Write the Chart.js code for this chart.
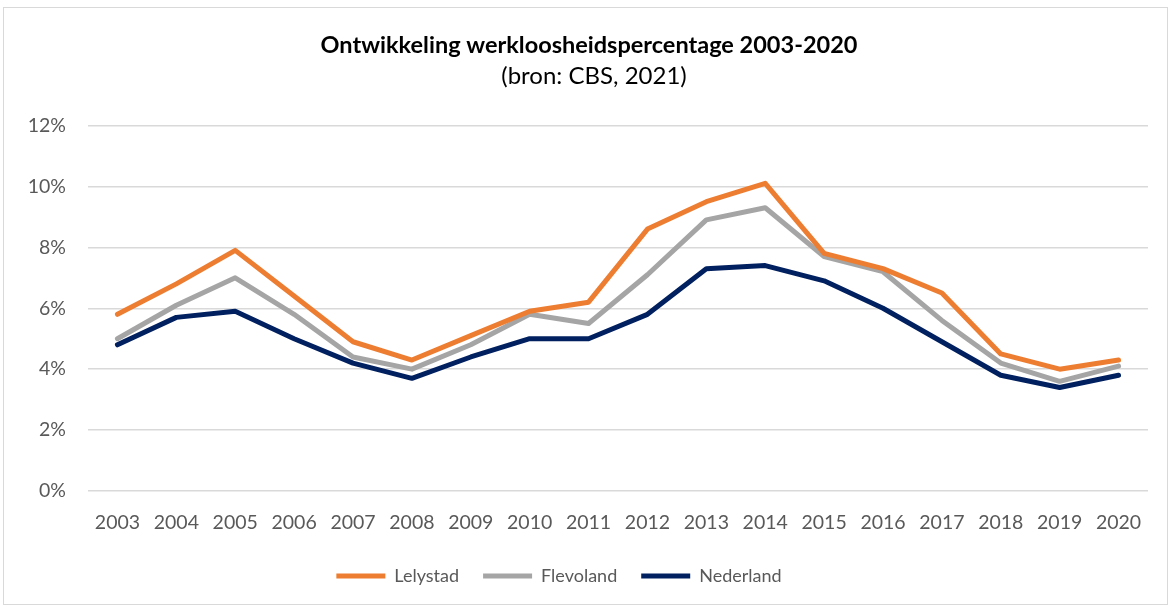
<!DOCTYPE html>
<html>
<head>
<meta charset="utf-8">
<script src="https://cdn.jsdelivr.net/npm/chart.js@4/dist/chart.umd.min.js"></script>
<style>
  html, body { margin: 0; padding: 0; background: #fff; }
  #wrap { width: 1171px; height: 607px; position: relative; }
</style>
</head>
<body>
<div id="wrap"><canvas id="werkloosChart" width="1171" height="607"></canvas></div>
<script>
// Werkloosheidspercentage 2003-2020 (bron: CBS, 2021)
const years = ['2003', '2004', '2005', '2006', '2007', '2008', '2009', '2010', '2011',
  '2012', '2013', '2014', '2015', '2016', '2017', '2018', '2019', '2020'];
const lelystad = [5.8, 6.8, 7.9, 6.4, 4.9, 4.3, 5.1, 5.9, 6.2, 8.6, 9.5, 10.1, 7.8, 7.3, 6.5, 4.5, 4.0, 4.3];
const flevoland = [5.0, 6.1, 7.0, 5.8, 4.4, 4.0, 4.8, 5.8, 5.5, 7.1, 8.9, 9.3, 7.7, 7.2, 5.6, 4.2, 3.6, 4.1];
const nederland = [4.8, 5.7, 5.9, 5.0, 4.2, 3.7, 4.4, 5.0, 5.0, 5.8, 7.3, 7.4, 6.9, 6.0, 4.9, 3.8, 3.4, 3.8];
const yTicks = [0, 2, 4, 6, 8, 10, 12];

const titleText = 'Ontwikkeling werkloosheidspercentage 2003-2020';
const subtitleText = '(bron: CBS, 2021)';
const fontFam = 'Lato, "Open Sans", sans-serif';
const textColor = '#595959';

// light grey frame round the whole chart
const framePlugin = {
  id: 'frame',
  beforeDraw(chart) {
    const c = chart.ctx;
    c.save();
    c.fillStyle = '#fff';
    c.fillRect(0, 0, chart.width, chart.height);
    c.strokeStyle = '#d9d9d9';
    c.lineWidth = 1;
    c.strokeRect(3.5, 7.5, chart.width - 7, chart.height - 10);
    c.restore();
  }
};

// nudge titles and legend sideways like the original (not centred on plot)
const nudgePlugin = {
  id: 'nudge',
  afterLayout(chart) {
    chart.boxes.forEach(b => {
      let dx = 0;
      if (b === chart.legend) dx = -15;
      else if (b.options && b.options.text === titleText) dx = 15;
      else if (b.options && b.options.text === subtitleText) dx = 20;
      if (dx) { b.left += dx; b.right += dx; }
    });
  }
};

function lineSet(label, data, color) {
  return {
    label: label,
    data: data,
    borderColor: color,
    backgroundColor: color,
    borderWidth: 5,
    pointRadius: 0,
    tension: 0,
    borderCapStyle: 'round',
    borderJoinStyle: 'round'
  };
}

const ctx = document.getElementById('werkloosChart').getContext('2d');
const chart = new Chart(ctx, {
  type: 'line',
  data: {
    labels: years,
    datasets: [
      lineSet('Lelystad', lelystad, '#ed7d31'),
      lineSet('Flevoland', flevoland, '#a5a5a5'),
      lineSet('Nederland', nederland, '#002060')
    ]
  },
  options: {
    responsive: false,
    animation: false,
    layout: { padding: { left: 0, right: 23, top: 0, bottom: 12 } },
    plugins: {
      title: {
        display: true,
        text: titleText,
        color: '#000',
        font: { family: fontFam, size: 23.5, weight: 'bold' },
        padding: { top: 31, bottom: 3 }
      },
      subtitle: {
        display: true,
        text: subtitleText,
        color: '#000',
        font: { family: fontFam, size: 24 },
        padding: { top: 0, bottom: 34.5 }
      },
      legend: {
        position: 'bottom',
        labels: {
          color: textColor,
          font: { family: fontFam, size: 18 },
          boxWidth: 49,
          boxHeight: 5,
          padding: 24,
          generateLabels(chart) {
            return Chart.defaults.plugins.legend.labels.generateLabels(chart)
              .map(l => Object.assign(l, { lineWidth: 0 }));
          }
        }
      },
      tooltip: { enabled: false }
    },
    scales: {
      x: {
        offset: true,
        grid: { display: false },
        border: { display: false },
        ticks: { color: textColor, font: { family: fontFam, size: 19.5 }, padding: 12, maxRotation: 0 },
        afterFit(scale) { scale.height = 52; }
      },
      y: {
        min: 0,
        max: 12,
        afterBuildTicks(scale) { scale.ticks = yTicks.map(v => ({ value: v })); },
        grid: { color: '#d9d9d9', lineWidth: 1.5, drawTicks: false },
        border: { display: false },
        ticks: {
          color: textColor,
          font: { family: fontFam, size: 19.5 },
          padding: 22,
          callback: v => v + '%'
        },
        afterFit(scale) { scale.width = 88; }
      }
    }
  },
  plugins: [framePlugin, nudgePlugin]
});
</script>
</body>
</html>
